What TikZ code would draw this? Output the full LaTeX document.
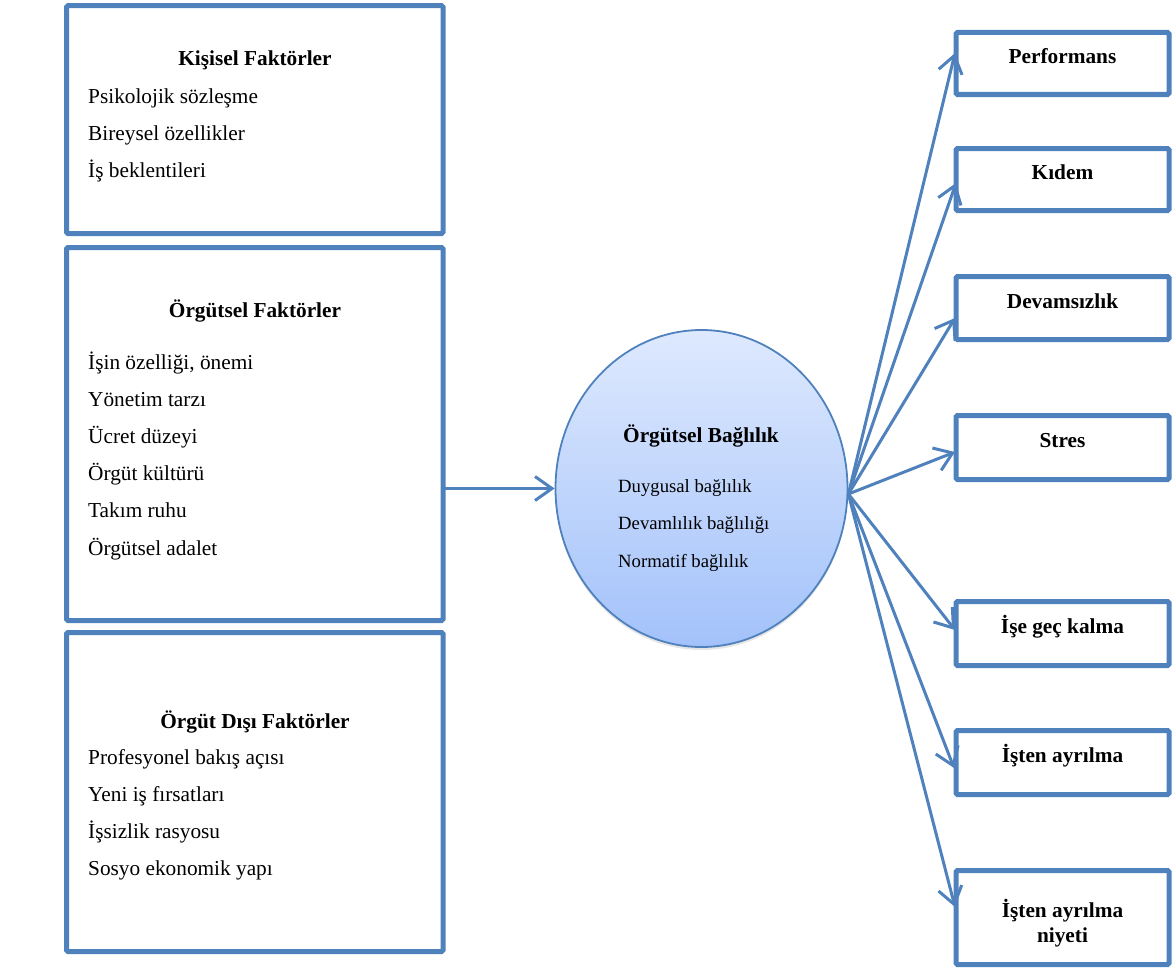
\documentclass[tikz,border=0pt]{standalone}
\usepackage{fontspec}
\setmainfont{Liberation Serif}
\usetikzlibrary{arrows.meta,calc,fit,shapes.geometric,shadows}
\definecolor{frameblue}{RGB}{79,129,189}
\definecolor{discTop}{RGB}{222,233,254}
\definecolor{discBottom}{RGB}{163,194,250}
\newcommand{\bigtext}{\fontsize{21.3}{25.5}\selectfont}
\newcommand{\smalltext}{\fontsize{18.7}{22.5}\selectfont}
% a stack of lines, first baseline is the node baseline; #1 = row stretch
\newcommand{\linestack}[3]{{\renewcommand{\arraystretch}{#1}\begin{tabular}[t]{@{}#2@{}}#3\end{tabular}}}
\begin{document}
\begin{tikzpicture}[x=1pt,y=-1pt,
  panel/.style={draw=frameblue,line width=5pt,rounded corners=1.5pt,inner sep=0pt,outer sep=0pt},
  heading/.style={font=\bigtext\bfseries,inner sep=0pt,anchor=base},
  itemlist/.style={font=\bigtext,inner sep=0pt,anchor=base west},
  discitems/.style={font=\smalltext,inner sep=0pt,anchor=base west},
  conn/.style={draw=frameblue,line width=3pt,-{Straight Barb[length=17pt,width=24pt]}}]
\useasboundingbox (0,0) rectangle (1173,974);

% ---- factor panels on the left ----
\node[panel,fit={(66.5,5.7) (443,233.5)}] (kisisel) {};
\node[panel,fit={(66.5,247.5) (443,620.5)}] (orgutsel) {};
\node[panel,fit={(66.5,632.5) (443,951.5)}] (disi) {};

\node[heading] (kisiselT) at (255,66) {Kişisel Faktörler};
\node[itemlist] (kisiselL) at (88,103)
  {\linestack{1.451}{l}{Psikolojik sözleşme\\Bireysel özellikler\\İş beklentileri}};

\node[heading] (orgutselT) at (255,317) {Örgütsel Faktörler};
\node[itemlist] (orgutselL) at (88,369)
  {\linestack{1.459}{l}{İşin özelliği, önemi\\Yönetim tarzı\\Ücret düzeyi\\Örgüt kültürü\\Takım ruhu\\Örgütsel adalet}};

\node[heading] (disiT) at (255,728) {Örgüt Dışı Faktörler};
\node[itemlist] (disiL) at (88,764)
  {\linestack{1.451}{l}{Profesyonel bakış açısı\\Yeni iş fırsatları\\İşsizlik rasyosu\\Sosyo ekonomik yapı}};

% ---- central commitment disc ----
\node[ellipse,draw=frameblue,line width=1.8pt,minimum width=292pt,minimum height=317pt,
      inner sep=0pt,top color=discTop,bottom color=discBottom,
      drop shadow={shadow xshift=0pt,shadow yshift=-3pt,opacity=0.2}] (bag) at (701.5,488.5) {};
\node[heading] (bagT) at (701,442) {Örgütsel Bağlılık};
\node[discitems] (bagL) at (618,492)
  {\linestack{1.667}{l}{Duygusal bağlılık\\Devamlılık bağlılığı\\Normatif bağlılık}};

% ---- outcome panels on the right ----
\node[panel,fit={(956,32.5) (1169,94.5)}] (perf) {};
\node[panel,fit={(956,148.5) (1169,210.5)}] (kidem) {};
\node[panel,fit={(956,276.5) (1169,339.5)}] (devam) {};
\node[panel,fit={(956,415.5) (1169,479.5)}] (stres) {};
\node[panel,fit={(956,601.5) (1169,665.5)}] (gec) {};
\node[panel,fit={(956,730.5) (1169,794.5)}] (ayril) {};
\node[panel,fit={(956,870.5) (1169,964.5)}] (niyet) {};

\node[heading] (perfT) at (perf.center) {Performans};
\node[heading] (kidemT) at (kidem.center) {Kıdem};
\node[heading] (devamT) at (devam.center) {Devamsızlık};
\node[heading] (stresT) at (stres.center) {Stres};
\node[heading] (gecT) at (gec.center) {İşe geç kalma};
\node[heading] (ayrilT) at (ayril.center) {İşten ayrılma};
\node[heading] (niyetT) at (niyet.center) {\linestack{0.98}{c}{İşten ayrılma\\niyeti}};

% ---- connectors ----
\draw[conn] (orgutsel.east |- bag.west) -- (bag.west);

\coordinate (hub) at ($(bag.east)+(0,5.5)$);
\draw[conn] (hub) -- ($(perf.west)+(-1,-10.5)$);
\draw[conn] (hub) -- ($(kidem.west)+(0,3.5)$);
\draw[conn] (hub) -- ($(devam.west)+(-1,10)$);
\draw[conn] (hub) -- ($(stres.west)+(-1,4.5)$);
\draw[conn] (hub) -- ($(gec.west)+(-1,-3.5)$);
\draw[conn] (hub) -- ($(ayril.west)+(-2,5.5)$);
\draw[conn] (hub) -- ($(niyet.west)+(-1,-10.5)$);
\end{tikzpicture}
\end{document}
